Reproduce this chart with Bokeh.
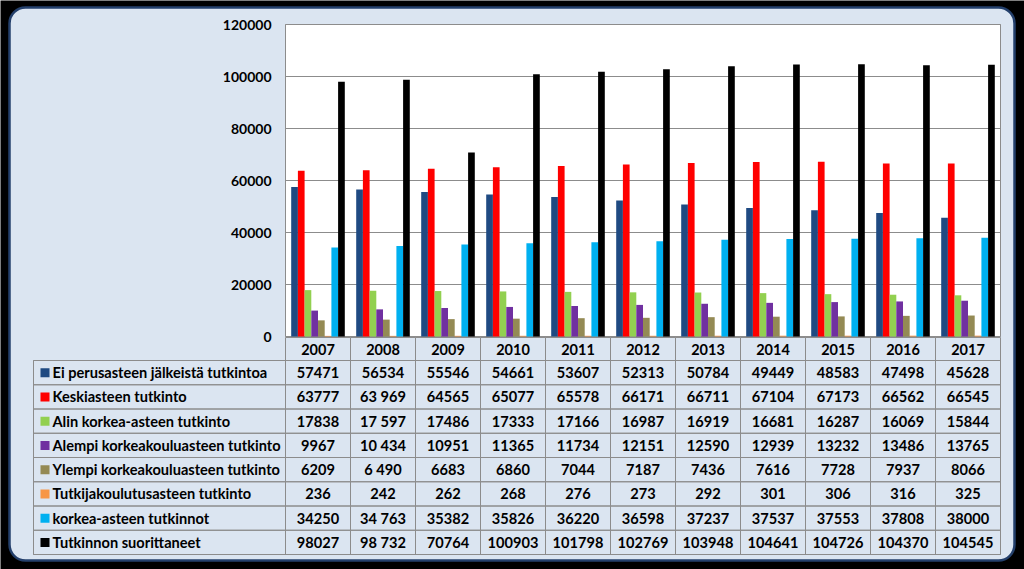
import numpy as np
from bokeh.plotting import figure
from bokeh.models import Range1d
from bokeh.core.properties import value
from bokeh.embed import file_html
from bokeh.resources import INLINE

# ---------------- data ----------------
years = ["2007", "2008", "2009", "2010", "2011", "2012", "2013", "2014", "2015", "2016", "2017"]
series_names = [
    "Ei perusasteen jälkeistä tutkintoa",
    "Keskiasteen tutkinto",
    "Alin korkea-asteen tutkinto",
    "Alempi korkeakouluasteen tutkinto",
    "Ylempi korkeakouluasteen tutkinto",
    "Tutkijakoulutusasteen tutkinto",
    "korkea-asteen tutkinnot",
    "Tutkinnon suorittaneet",
]
ei_perusaste = [57471, 56534, 55546, 54661, 53607, 52313, 50784, 49449, 48583, 47498, 45628]
keskiaste = [63777, 63969, 64565, 65077, 65578, 66171, 66711, 67104, 67173, 66562, 66545]
alin_korkea = [17838, 17597, 17486, 17333, 17166, 16987, 16919, 16681, 16287, 16069, 15844]
alempi_kk = [9967, 10434, 10951, 11365, 11734, 12151, 12590, 12939, 13232, 13486, 13765]
ylempi_kk = [6209, 6490, 6683, 6860, 7044, 7187, 7436, 7616, 7728, 7937, 8066]
tutkija = [236, 242, 262, 268, 276, 273, 292, 301, 306, 316, 325]
korkea_yht = [34250, 34763, 35382, 35826, 36220, 36598, 37237, 37537, 37553, 37808, 38000]
suorittaneet = [98027, 98732, 70764, 100903, 101798, 102769, 103948, 104641, 104726, 104370, 104545]
y_ticks = [0, 20000, 40000, 60000, 80000, 100000, 120000]
# cells of the 2008 column that are printed with a space as thousands separator
spaced_rows_2008 = [1, 2, 3, 4, 6, 7]

series_values = [ei_perusaste, keskiaste, alin_korkea, alempi_kk, ylempi_kk, tutkija, korkea_yht, suorittaneet]

# ---------------- style ----------------
colors = ["#1F4A82", "#FF0000", "#92D050", "#7030A0", "#948A54", "#F79646", "#00B0F0", "#000000"]
PANEL = "#DBE5F1"
GRID = "#8C8C8C"
FONT = value("Lato")

W, H = 1024, 569
# plot area in page pixels
FL, FR, FT, FB = 285, 1000, 24, 336
GW = (FR - FL) / len(years)
YMAX = 120000


def xd(px):
    return (px - FL) / GW - 0.5


def yd(py):
    return (FB - py) * YMAX / (FB - FT)


p = figure(width=W, height=H, output_backend="svg", toolbar_location=None,
           x_range=Range1d(xd(0), xd(W)), y_range=Range1d(yd(H), yd(0)),
           min_border=0, background_fill_color="black", border_fill_color="black",
           outline_line_color=None)
p.axis.visible = False
p.grid.visible = False

# panel
p.quad(left=[xd(9)], right=[xd(1014)], top=[yd(7)], bottom=[yd(560)],
       fill_color=PANEL, line_color="#24406C", line_width=2.5, border_radius=16)
# plot area
p.quad(left=[-0.5], right=[len(years) - 0.5], top=[YMAX], bottom=[0],
       fill_color="white", line_color=GRID, line_width=1)
# grid lines
p.segment(x0=[-0.5] * len(y_ticks), x1=[len(years) - 0.5] * len(y_ticks),
          y0=y_ticks, y1=y_ticks, line_color=GRID, line_width=1)
# y tick labels
p.text(x=[xd(271)] * len(y_ticks), y=y_ticks, text=[str(t) for t in y_ticks],
       text_align="right", text_baseline="middle", text_font=FONT,
       text_font_style="bold", text_font_size="14px", text_color="black")

# bars
n = len(series_values)
BW = 6.7 / GW
idx = np.arange(len(years))
for i, (vals, col) in enumerate(zip(series_values, colors)):
    p.vbar(x=idx + (i - (n - 1) / 2) * BW, top=vals, width=BW,
           fill_color=col, line_color=None)

# ---------------- data table ----------------
HEAD_T, HEAD_B = 337, 360
ROW_H = (554 - 360) / 8
TL = 33
row_tops = [HEAD_B + r * ROW_H for r in range(n + 1)]
row_mid = [yd((row_tops[r] + row_tops[r + 1]) / 2) for r in range(n)]

# column boxes (header + body)
p.quad(left=idx - 0.5, right=idx + 0.5, top=[yd(HEAD_T)] * len(years),
       bottom=[yd(row_tops[-1])] * len(years), fill_color=None, line_color=GRID, line_width=1)
# row boxes
p.quad(left=[xd(TL)] * n, right=[len(years) - 0.5] * n,
       top=[yd(t) for t in row_tops[:-1]], bottom=[yd(b) for b in row_tops[1:]],
       fill_color=None, line_color=GRID, line_width=1)
# first column box
p.quad(left=[xd(TL)], right=[-0.5], top=[yd(row_tops[0])], bottom=[yd(row_tops[-1])],
       fill_color=None, line_color=GRID, line_width=1)
# legend keys
key_h = 9 * YMAX / (FB - FT)
p.quad(left=[xd(40)] * n, right=[xd(49)] * n,
       top=[m + key_h / 2 for m in row_mid], bottom=[m - key_h / 2 for m in row_mid],
       fill_color=colors, line_color=None)

# texts
p.text(x=idx, y=[yd((HEAD_T + HEAD_B) / 2)] * len(years), text=years,
       text_align="center", text_baseline="middle", text_font=FONT,
       text_font_style="bold", text_font_size="14.5px", text_color="black")
p.text(x=[xd(52)] * n, y=row_mid, text=series_names,
       text_align="left", text_baseline="middle", text_font=FONT,
       text_font_style="bold", text_font_size="14.6px", text_color="black")
cx, cy, ct = [], [], []
for r, vals in enumerate(series_values):
    for k, v in enumerate(vals):
        s = str(v)
        if years[k] == "2008" and r in spaced_rows_2008:
            s = f"{v:,}".replace(",", " ")
        cx.append(k)
        cy.append(row_mid[r])
        ct.append(s)
p.text(x=cx, y=cy, text=ct, text_align="center", text_baseline="middle", text_font=FONT,
       text_font_style="bold", text_font_size="14.6px", text_color="black")

open("out.html", "w").write(file_html(p, INLINE))
